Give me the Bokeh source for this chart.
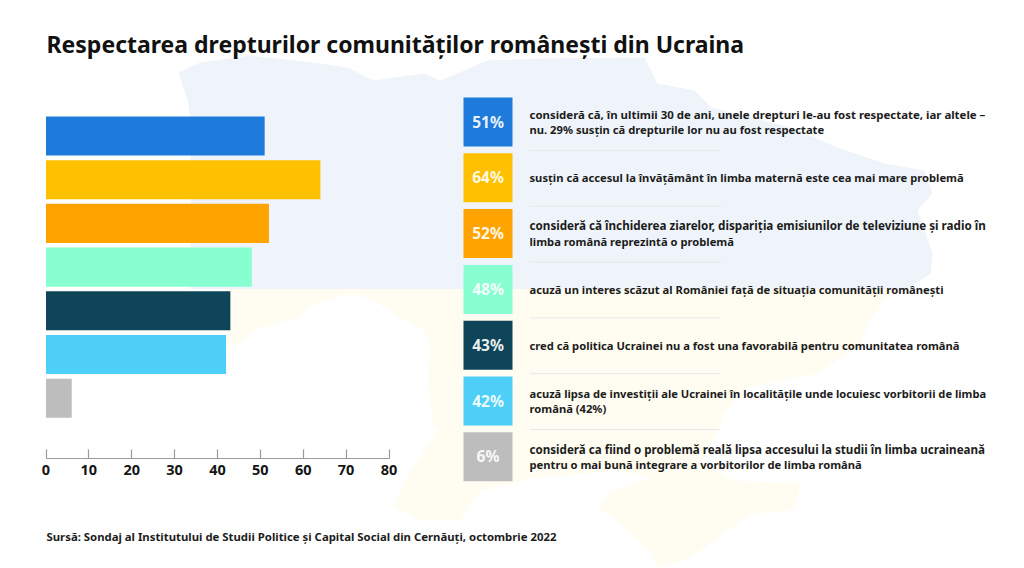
from bokeh.plotting import figure
from bokeh.models import Range1d, LinearAxis, FixedTicker
from bokeh.core.properties import value
from bokeh.embed import file_html
from bokeh.resources import INLINE

TITLE = "Respectarea drepturilor comunităților românești din Ucraina"
SOURCE = "Sursă: Sondaj al Institutului de Studii Politice și Capital Social din Cernăuți, octombrie 2022"
values = [51, 64, 52, 48, 43, 42, 6]
colors = ["#1E7BDC", "#FFC000", "#FFA300", "#87FFD0", "#0F4559", "#4DCFF8", "#BDBDBD"]
captions = [
    ["consideră că, în ultimii 30 de ani, unele drepturi le-au fost respectate, iar altele –",
     "nu. 29% susțin că drepturile lor nu au fost respectate"],
    ["susțin că accesul la învățământ în limba maternă este cea mai mare problemă"],
    ["consideră că închiderea ziarelor, dispariția emisiunilor de televiziune și radio în",
     "limba română reprezintă o problemă"],
    ["acuză un interes scăzut al României față de situația comunității românești"],
    ["cred că politica Ucrainei nu a fost una favorabilă pentru comunitatea română"],
    ["acuză lipsa de investiții ale Ucrainei în localitățile unde locuiesc vorbitorii de limba",
     "română (42%)"],
    ["consideră ca fiind o problemă reală lipsa accesului la studii în limba ucraineană",
     "pentru o mai bună integrare a vorbitorilor de limba română"],
]
ticks = [0, 10, 20, 30, 40, 50, 60, 70, 80]

W, H = 1024, 568
FONT = "Noto Sans"
PX_PER_UNIT = (388.5 - 45.5) / 80
ROW_PX = 43.7
Y0 = 135.5

p = figure(width=W, height=H, output_backend="svg", toolbar_location=None,
           min_border=0, outline_line_color=None, background_fill_color="white",
           border_fill_color="white", x_axis_type=None, y_axis_type=None,
           x_range=Range1d(-45.5 / PX_PER_UNIT, (W - 45.5) / PX_PER_UNIT),
           y_range=Range1d((H - Y0) / ROW_PX, -Y0 / ROW_PX),
           extra_x_ranges={"px": Range1d(0, W)},
           extra_y_ranges={"px": Range1d(H, 0)})
p.grid.visible = False

# faint map backdrop, in page pixels
map_blue_x = [178, 200, 250, 320, 347, 373, 423, 440, 487, 540, 644, 657, 694, 711, 790, 837, 884, 924, 932, 917, 932, 930, 907, 190, 190, 187]
map_blue_y = [72, 62, 55, 63, 67, 80, 73, 80, 60, 58, 57, 83, 90, 107, 127, 147, 163, 170, 193, 210, 253, 273, 288.5, 288.5, 117, 100]
map_yellow_x = [225, 897, 884, 867, 861, 817, 744, 724, 717, 700, 734, 791, 801, 794, 751, 717, 691, 657, 651, 617, 597, 607, 651, 620, 530, 480, 473, 460, 423, 393, 410, 437, 433, 427, 430, 423, 393, 373, 353, 313, 297, 253, 240, 225]
map_yellow_y = [288.5, 288.5, 300, 323, 343, 373, 387, 413, 430, 462, 480, 483, 480, 510, 513, 537, 557, 567, 553, 520, 507, 493, 477, 470, 478, 490, 500, 520, 520, 507, 470, 430, 427, 380, 347, 330, 313, 300, 293, 303, 317, 330, 343, 345]
p.patch(map_blue_x, map_blue_y, x_range_name="px", y_range_name="px", fill_color="#EFF4FA", line_color=None)
p.patch(map_yellow_x, map_yellow_y, x_range_name="px", y_range_name="px", fill_color="#FFFCF1", line_color=None)

# bars
rows = list(range(len(values)))
p.hbar(y=rows, left=0, right=values, height=0.895, fill_color=colors, line_color=None)

axis = LinearAxis(fixed_location=(458 - Y0) / ROW_PX, bounds=(0, 80),
                  ticker=FixedTicker(ticks=ticks),
                  axis_line_color="#9A9A9A", axis_line_width=1.2,
                  major_tick_line_color="#9A9A9A", major_tick_line_width=1.2,
                  major_tick_in=9, major_tick_out=0, minor_tick_line_color=None,
                  major_label_text_font=FONT, major_label_text_font_size="14.5px",
                  major_label_text_font_style="bold", major_label_text_color="#151515",
                  major_label_standoff=6)
p.add_layout(axis, "below")

# tiles
TILE_TOP, TILE_H, TILE_STEP = 97, 49, 55.8
tops = [TILE_TOP + TILE_STEP * i for i in rows]
p.quad(left=463, right=512, top=tops, bottom=[t + TILE_H for t in tops],
       x_range_name="px", y_range_name="px", fill_color=colors, line_color=None)
p.text(x=487.5, y=[t + TILE_H / 2 - 0.5 for t in tops], text=[f"{v}%" for v in values],
       x_range_name="px", y_range_name="px", text_font=value(FONT), text_font_style="bold",
       text_font_size="15.5px", text_color="white", text_alpha=0.92,
       text_align="center", text_baseline="middle")

# separators
sep_y = [t + TILE_H + 4 for t in tops[:-1]]
p.segment(x0=529, x1=720, y0=sep_y, y1=sep_y, x_range_name="px", y_range_name="px",
          line_color="#E6E8EA", line_width=1)

# captions: justified first lines take a slightly different size so they reach the right edge
BASE_SIZE = 11.2
JUSTIFIED = {0: 11.43, 2: 11.67, 5: 11.13, 6: 11.6}
cx, cy, ctext, csize = [], [], [], []
for i, (t, lines) in enumerate(zip(tops, captions)):
    mid = t + TILE_H / 2
    off = [-7.75, 7.75] if len(lines) == 2 else [0]
    for j, (line, o) in enumerate(zip(lines, off)):
        cx.append(529)
        cy.append(mid + o)
        ctext.append(line)
        csize.append(f"{JUSTIFIED.get(i, BASE_SIZE) if j == 0 else BASE_SIZE}px")
p.text(x="x", y="y", text="t", text_font_size="s",
       source={"x": cx, "y": cy, "t": ctext, "s": csize},
       x_range_name="px", y_range_name="px",
       text_font=value(FONT), text_font_style="bold",
       text_color="#1C1C1C", text_align="left", text_baseline="middle")

p.text(x=[46], y=[43.5], text=[TITLE], x_range_name="px", y_range_name="px",
       text_font=value(FONT), text_font_style="bold", text_font_size="23px",
       text_color="#111111", text_align="left", text_baseline="middle")
p.text(x=[46], y=[536], text=[SOURCE], x_range_name="px", y_range_name="px",
       text_font=value(FONT), text_font_style="bold", text_font_size="11.35px",
       text_color="#1C1C1C", text_align="left", text_baseline="middle")

open("out.html", "w").write(file_html(p, INLINE))
